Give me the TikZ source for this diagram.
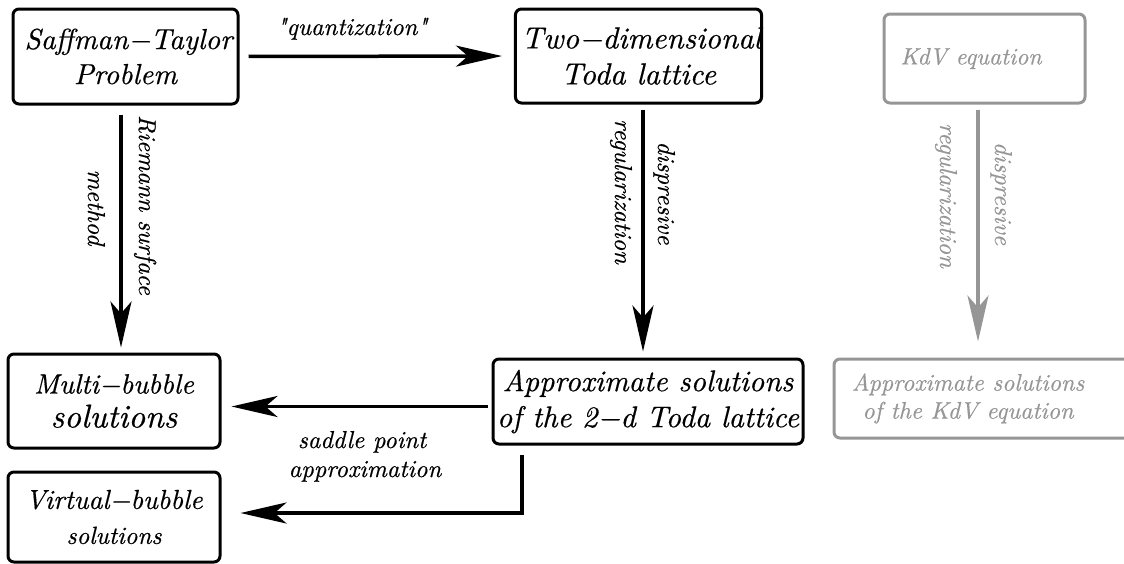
\documentclass[tikz,border=0pt]{standalone}
\usepackage{fontspec}
\newfontfamily\lmit{lmroman10-italic}[Extension=.otf, FakeBold=0.5]
\usetikzlibrary{arrows.meta}
\definecolor{greyc}{RGB}{150,150,150}
\newcommand\fsz[2]{\fontsize{#1}{#2}\selectfont}
\tikzset{
  box/.style={draw, line width=3pt, rounded corners=6pt, inner sep=0pt, align=center},
  gbox/.style={box, draw=greyc, text=greyc},
  arr/.style={line width=3.5pt, -{Stealth[length=46pt,width=21pt,inset=12pt]}},
  garr/.style={arr, draw=greyc, fill=greyc},
  lbl/.style={inner sep=0pt, font=\lmit\fsz{24.5}{29}},
  glbl/.style={lbl, text=greyc},
}
\begin{document}
\begin{tikzpicture}[x=1pt,y=-1pt]
\useasboundingbox (0,0) rectangle (1124,563);

% boxes
\node[box, minimum width=225pt, minimum height=95pt, font=\lmit\fsz{29}{35}] (st) at (125.5,56.5) {\hspace*{6pt}Saffman−Taylor\\Problem};
\node[box, minimum width=243pt, minimum height=94pt, font=\lmit\fsz{30.5}{36}] (td) at (638.5,56) {\hspace*{6pt}Two−dimensional\\Toda lattice};
\node[gbox, minimum width=201pt, minimum height=89pt, font=\lmit\fsz{23.7}{29}] (kd) at (984.5,58.5) {KdV equation\hspace*{27pt}};
\node[box, minimum width=212pt, minimum height=94pt, font=\lmit\fsz{33}{34}] (mb) at (114,401) {{\fsz{27.9}{34}Multi−bubble}\\solutions};
\node[box, minimum width=212pt, minimum height=90pt, font=\lmit\fsz{24.8}{35}] (vb) at (114,517) {{\fsz{27.4}{35}Virtual−bubble}\\solutions};
\node[box, minimum width=310pt, minimum height=85pt, font=\lmit\fsz{30}{36}] (ap) at (648,401.5) {Approximate solutions\\of the 2−d Toda lattice};
\node[gbox, minimum width=302pt, minimum height=79pt, font=\lmit\fsz{24}{28}] (ak) at (985,398.5) {Approximate solutions\hspace*{34pt}\\of the KdV equation\hspace*{34pt}};

% helper coordinates
\coordinate (rx) at (121,0);
\coordinate (dx) at (643,0);
\coordinate (gx) at (978,0);
\coordinate (ay) at (0,406.5);
\coordinate (vx) at (522,0);
\coordinate (vy) at (0,513);

% connectors
\draw[arr, shorten <=9pt, shorten >=12pt] (st.east) -- (td.west);
\draw[arr, shorten <=9pt, shorten >=5pt] (st.south -| rx) -- (mb.north -| rx);
\draw[arr, shorten <=5pt, shorten >=6pt] (td.south -| dx) -- (ap.north -| dx);
\draw[garr, shorten <=5pt, shorten >=16pt] (kd.south -| gx) -- (ak.north -| gx);
\draw[arr, shorten <=4pt, shorten >=10pt] (ap.west |- ay) -- (mb.east |- ay);
\draw[arr, shorten <=9pt, shorten >=19pt] (ap.south -| vx) |- (vb.east |- vy);

% labels
\node[lbl, anchor=base] (qz) at (352,35) {"quantization"};
\node[lbl, rotate=-90, anchor=base] (rs) at (139,205) {Riemann surface};
\node[lbl, rotate=-90, anchor=base] (me) at (88,207.5) {method};
\node[lbl, rotate=-90, anchor=base] (dp) at (658,193) {dispresive};
\node[lbl, rotate=-90, anchor=base] (rg) at (615,191.5) {regularization};
\node[glbl, rotate=-90, anchor=base] (gdp) at (995,193.5) {dispresive};
\node[glbl, rotate=-90, anchor=base] (grg) at (940,195.5) {regularization};
\node[lbl, anchor=base] (sd) at (362,448) {saddle point};
\node[lbl, anchor=base] (sx) at (365,477) {approximation};
\end{tikzpicture}
\end{document}
